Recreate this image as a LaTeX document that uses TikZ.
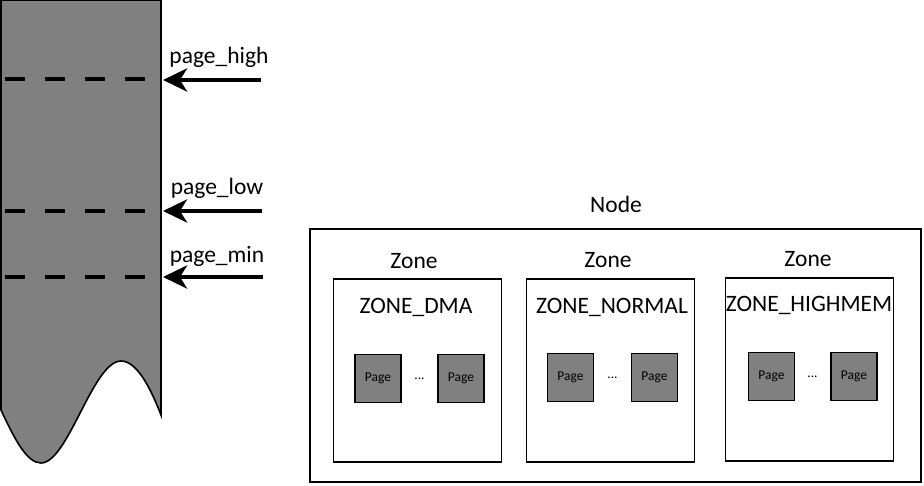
\documentclass[tikz,border=0pt]{standalone}
\usepackage{fontspec}
\setmainfont{Carlito}
\usetikzlibrary{arrows.meta}
\definecolor{memgray}{HTML}{808080}
\tikzset{
  x=1pt,y=-1pt,
  lbl/.style={inner sep=0pt,font=\fontsize{23.5}{25}\selectfont},
  zonebox/.style={draw,line width=1.8pt,minimum width=168pt,minimum height=183pt,inner sep=0pt},
  pagebox/.style={draw,line width=1.8pt,fill=memgray,minimum width=46pt,minimum height=48pt,inner sep=0pt,font=\fontsize{13.5}{14}\selectfont},
  dots/.style={inner sep=0pt,font=\fontsize{13.5}{14}\selectfont},
  mark line/.style={line width=4.5pt,dash pattern=on 20pt off 20pt},
  ptr/.style={line width=4.5pt,-{Stealth[length=24pt,width=23pt,inset=7pt]}},
}
\begin{document}
\begin{tikzpicture}
\useasboundingbox (0,0) rectangle (924,486);
% memory column
\draw[line width=1.6pt,fill=memgray] (1,0) -- (1,410)
  .. controls (15,440) and (27,463) .. (41,463)
  .. controls (68,463) and (93,361) .. (121,361)
  .. controls (138,361) and (152,392) .. (161,415) -- (161,0) -- cycle;
% watermark lines
\draw[mark line] (5,79) -- (161,79);
\draw[mark line] (5,211) -- (161,211);
\draw[mark line] (5,277) -- (161,277);
% arrows
\coordinate (h1) at (163,80); \coordinate (t1) at (261,80);
\coordinate (h2) at (163,211); \coordinate (t2) at (262,211);
\coordinate (h3) at (163,277); \coordinate (t3) at (263,277);
\draw[ptr] (t1) -- (h1);
\draw[ptr] (t2) -- (h2);
\draw[ptr] (t3) -- (h3);
\node[lbl] (lh) at (219,57) {page\_high};
\node[lbl] (ll) at (217,188) {page\_low};
\node[lbl] (lm) at (217,256) {page\_min};
% node box
\node[draw,line width=1.8pt,minimum width=611pt,minimum height=253pt,inner sep=0pt] (nodebox) at (615.5,355.5) {};
\node[lbl] (nodelbl) at (616,204) {Node};
% zones
\node[zonebox] (z1) at (417.5,370.5) {};
\node[zonebox] (z2) at (610.5,370.5) {};
\node[zonebox] (z3) at (809.5,369.5) {};
\node[lbl] (zl1) at (414,261) {Zone};
\node[lbl] (zl2) at (608,260) {Zone};
\node[lbl] (zl3) at (808,259) {Zone};
\node[lbl] (zn1) at (416,307) {ZONE\_DMA};
\node[lbl] (zn2) at (612,307) {ZONE\_NORMAL};
\node[lbl] (zn3) at (809,305) {ZONE\_HIGHMEM};
% pages
\node[pagebox] (p11) at (378,378.5) {Page};
\node[pagebox] (p12) at (461,378.5) {Page};
\node[dots] (d1) at (419.5,379) {...};
\node[pagebox] (p21) at (570.5,377.5) {Page};
\node[pagebox] (p22) at (654.5,377.5) {Page};
\node[dots] (d2) at (612.5,378) {...};
\node[pagebox] (p31) at (771.5,376.5) {Page};
\node[pagebox] (p32) at (854,376.5) {Page};
\node[dots] (d3) at (812.5,377) {...};
\end{tikzpicture}
\end{document}
